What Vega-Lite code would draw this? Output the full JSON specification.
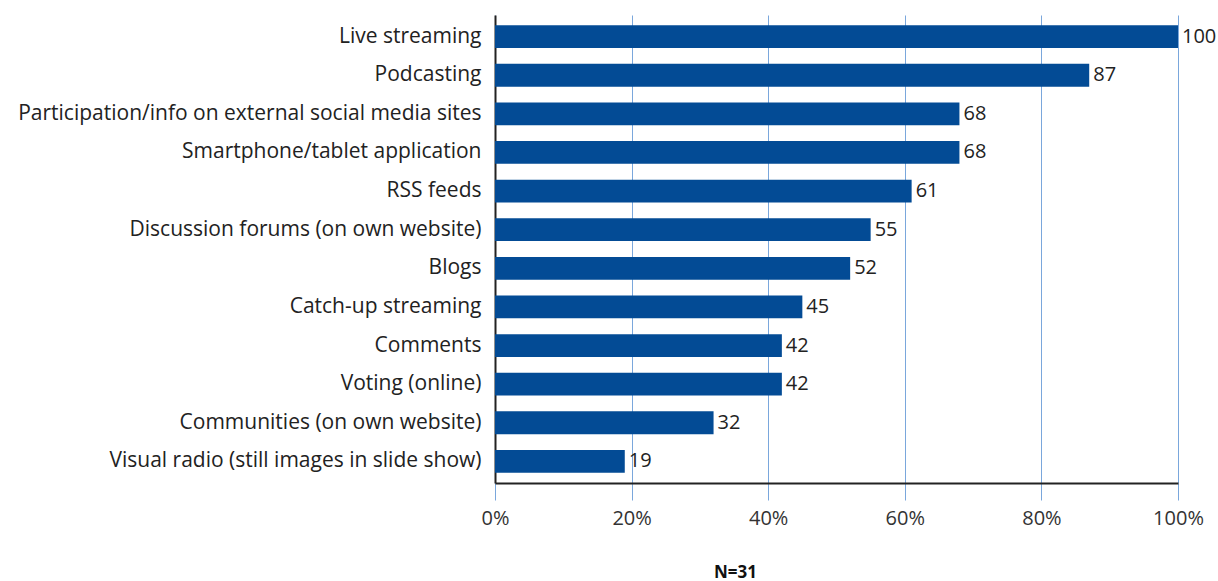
{
  "$schema": "https://vega.github.io/schema/vega-lite/v6.json",
  "width": 683,
  "height": 468,
  "autosize": {"type": "none"},
  "padding": {"left": 495, "top": 15, "right": 40, "bottom": 98},
  "background": "white",
  "config": {"view": {"stroke": null}, "font": "Open Sans"},
  "data": {"values": [
    {"item": "Live streaming", "value": 100},
    {"item": "Podcasting", "value": 87},
    {"item": "Participation/info on external social media sites", "value": 68},
    {"item": "Smartphone/tablet application", "value": 68},
    {"item": "RSS feeds", "value": 61},
    {"item": "Discussion forums (on own website)", "value": 55},
    {"item": "Blogs", "value": 52},
    {"item": "Catch-up streaming", "value": 45},
    {"item": "Comments", "value": 42},
    {"item": "Voting (online)", "value": 42},
    {"item": "Communities (on own website)", "value": 32},
    {"item": "Visual radio (still images in slide show)", "value": 19}
  ]},
  "encoding": {
    "y": {"field": "item", "type": "nominal", "sort": null,
      "scale": {"paddingInner": 0.41, "paddingOuter": 0.265},
      "axis": {"title": null, "ticks": false, "domain": true, "domainColor": "#222222", "domainWidth": 2,
        "labelFontSize": 21, "labelColor": "#222222", "labelPadding": 14, "labelLimit": 600}},
    "x": {"field": "value", "type": "quantitative",
      "scale": {"domain": [0, 100], "nice": false},
      "axis": {"values": [0, 20, 40, 60, 80, 100], "format": ".0f", "labelExpr": "datum.label + '%'",
        "labelFlush": false, "labelBound": false, "labelOverlap": false,
        "grid": true, "gridColor": "#7aa7dc", "gridWidth": 1,
        "tickColor": "#7aa7dc", "tickSize": 17, "tickWidth": 1,
        "domainColor": "#222222", "domainWidth": 2,
        "labelFontSize": 20, "labelColor": "#333333", "labelPadding": 8,
        "title": "N=31", "titleFontSize": 17, "titleFontWeight": "bold", "titleColor": "#111111",
        "titleX": 240, "titleY": 94, "titleBaseline": "alphabetic"}}
  },
  "layer": [
    {"mark": {"type": "bar", "color": "#034b95"}},
    {"mark": {"type": "text", "align": "left", "baseline": "middle", "dx": 4, "fontSize": 20, "color": "#222222"},
     "encoding": {"text": {"field": "value", "type": "quantitative"}}}
  ]
}
